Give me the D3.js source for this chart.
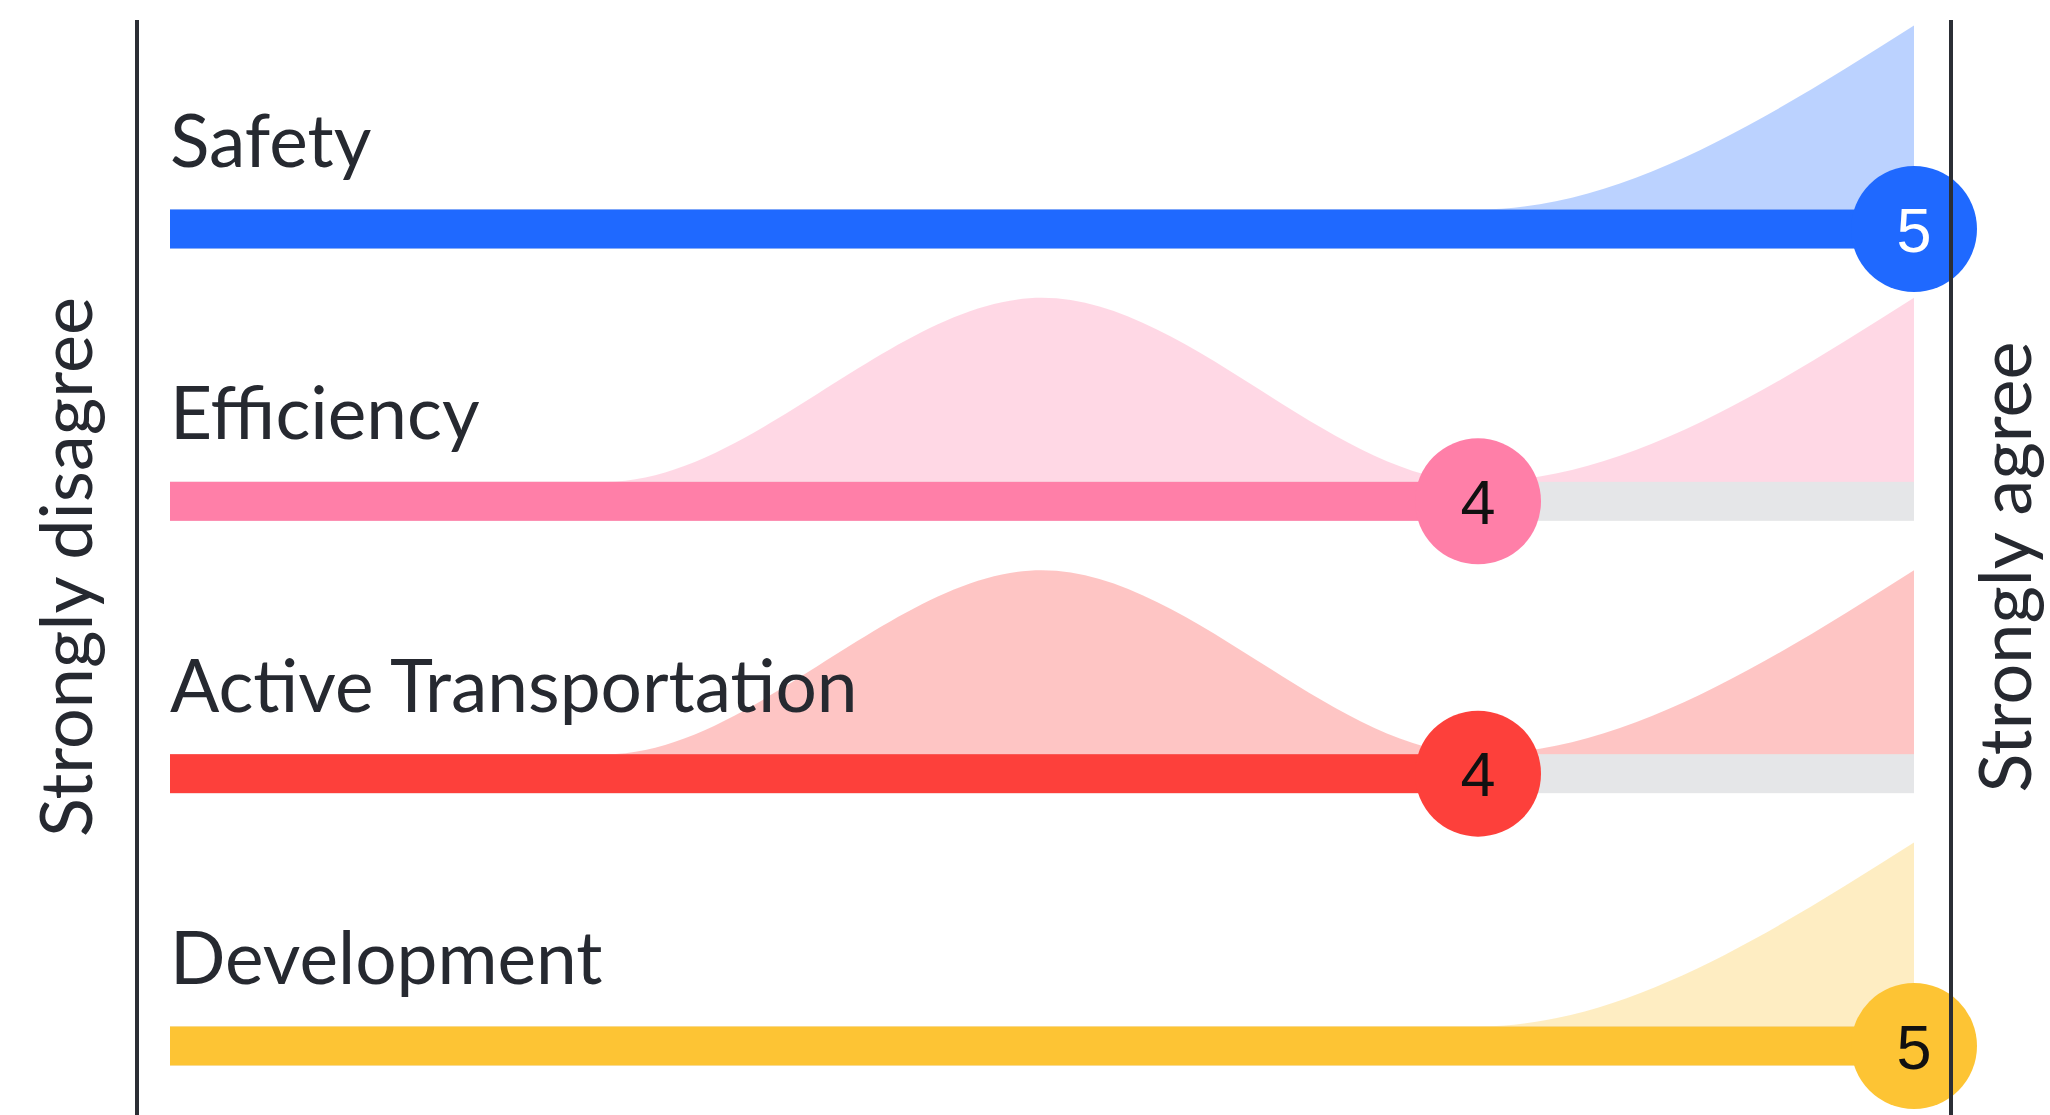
<!DOCTYPE html>
<html>
<head>
<meta charset="utf-8">
<script src="https://cdn.jsdelivr.net/npm/d3@7"></script>
<style>
  html, body { margin: 0; padding: 0; background: #ffffff; }
  svg { display: block; }
</style>
</head>
<body>
<svg id="chart" width="2050" height="1115"></svg>
<script>
// ---- data ----
const categories = ["Safety", "Efficiency", "Active Transportation", "Development"];
const levels = [1, 2, 3, 4, 5];
const scores = [5, 4, 4, 5];
// share of responses at each level (1 = strongly disagree ... 5 = strongly agree)
const safetyResponses = [0, 0, 0, 0, 1];
const efficiencyResponses = [0, 0, 0.5, 0, 0.5];
const activeResponses = [0, 0, 0.5, 0, 0.5];
const developmentResponses = [0, 0, 0, 0, 1];
const responses = [safetyResponses, efficiencyResponses, activeResponses, developmentResponses];
const axisLabels = ["Strongly disagree", "Strongly agree"];

const barColors = ["#1f69ff", "#ff7fa8", "#fd403b", "#fdc434"];
const numberColors = ["#ffffff", "#111111", "#111111", "#111111"];

// ---- layout ----
const svg = d3.select("#chart");
const W = 2050, H = 1115;
const barH = 39, radius = 63, areaH = 184;
const x = d3.scaleLinear().domain([1, 5]).range([170, 1914]);
const y = d3.scalePoint().domain(categories).range([229, 1046]);
const textColor = "#262930";
const labelFont = "Lato, 'Open Sans', sans-serif";

const rows = categories.map((c, i) => ({
  name: c, score: scores[i], color: barColors[i], numColor: numberColors[i],
  pts: levels.map((l, j) => ({ level: l, v: responses[i][j] }))
}));

const g = svg.append("g");

// density areas
rows.forEach(r => {
  const cy = y(r.name);
  const maxV = d3.max(r.pts, d => d.v);
  const hScale = d3.scaleLinear().domain([0, maxV]).range([0, areaH]);
  const area = d3.area()
    .x(d => x(d.level))
    .y0(cy)
    .y1(d => cy - barH / 2 - hScale(d.v))
    .curve(d3.curveMonotoneX);
  g.append("path").datum(r.pts)
    .attr("d", area)
    .attr("fill", r.color)
    .attr("fill-opacity", 0.3);
});

// tracks
g.selectAll("rect.track").data(rows).join("rect")
  .attr("class", "track")
  .attr("x", x(1)).attr("width", x(5) - x(1))
  .attr("y", d => y(d.name) - barH / 2).attr("height", barH)
  .attr("fill", "#e5e6e8");

// value bars
g.selectAll("rect.bar").data(rows).join("rect")
  .attr("class", "bar")
  .attr("x", x(1)).attr("width", d => x(d.score) - x(1))
  .attr("y", d => y(d.name) - barH / 2).attr("height", barH)
  .attr("fill", d => d.color);

// labels
g.selectAll("text.label").data(rows).join("text")
  .attr("class", "label")
  .attr("x", x(1)).attr("y", d => y(d.name) - 62)
  .attr("font-family", labelFont)
  .attr("font-size", 73)
  .attr("fill", textColor)
  .text(d => d.name);

// circles
g.selectAll("circle.dot").data(rows).join("circle")
  .attr("class", "dot")
  .attr("cx", d => x(d.score)).attr("cy", d => y(d.name))
  .attr("r", radius)
  .attr("fill", d => d.color);

g.selectAll("text.num").data(rows).join("text")
  .attr("class", "num")
  .attr("x", d => x(d.score)).attr("y", d => y(d.name))
  .attr("dy", "0.36em")
  .attr("text-anchor", "middle")
  .attr("font-family", "'Liberation Sans', Arial, sans-serif")
  .attr("font-size", 63)
  .attr("fill", d => d.numColor)
  .text(d => d.score);

// axis lines
[137, 1951].forEach(px => {
  g.append("line")
    .attr("x1", px).attr("x2", px)
    .attr("y1", 20).attr("y2", H)
    .attr("stroke", "#2b2e35").attr("stroke-width", 4);
});

// end labels
const midY = 567;
g.append("text")
  .attr("transform", `translate(92,${midY}) rotate(-90)`)
  .attr("text-anchor", "middle")
  .attr("font-family", labelFont)
  .attr("font-size", 72)
  .attr("fill", textColor)
  .text(axisLabels[0]);
g.append("text")
  .attr("transform", `translate(2031,${midY}) rotate(-90)`)
  .attr("text-anchor", "middle")
  .attr("font-family", labelFont)
  .attr("font-size", 72)
  .attr("fill", textColor)
  .text(axisLabels[1]);
</script>
</body>
</html>
